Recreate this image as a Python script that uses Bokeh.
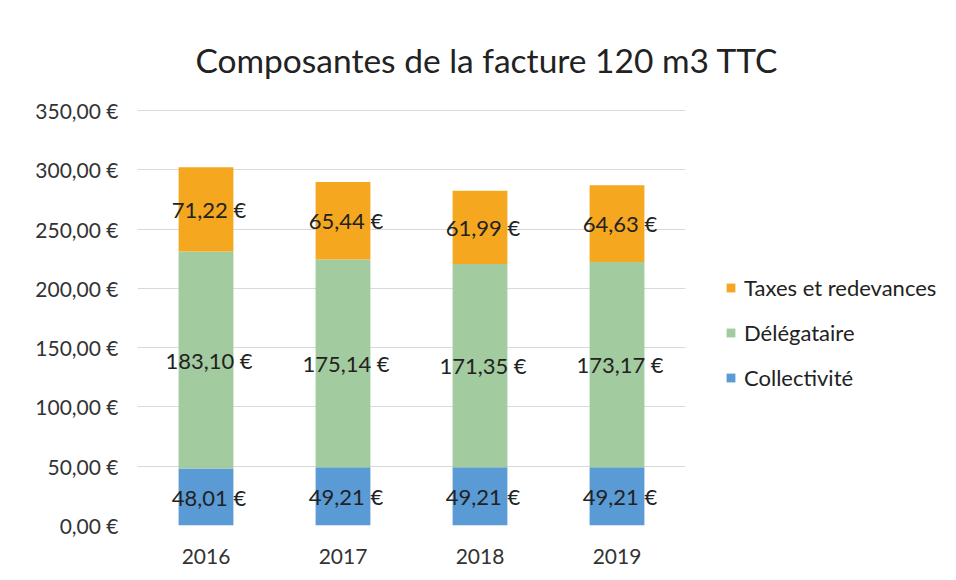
from bokeh.plotting import figure
from bokeh.models import FactorRange, Range1d, Legend, LegendItem, ColumnDataSource, FixedTicker, Title
from bokeh.core.properties import value
from bokeh.embed import file_html
from bokeh.resources import INLINE

years = ["2016", "2017", "2018", "2019"]
collectivite = [48.01, 49.21, 49.21, 49.21]
delegataire = [183.10, 175.14, 171.35, 173.17]
taxes = [71.22, 65.44, 61.99, 64.63]
series_names = ["Collectivité", "Délégataire", "Taxes et redevances"]
colors = ["#5B9BD5", "#A2CB9F", "#F5A81F"]
y_ticks = [0, 50, 100, 150, 200, 250, 300, 350]
y_tick_labels = ["0,00 €", "50,00 €", "100,00 €", "150,00 €", "200,00 €", "250,00 €", "300,00 €", "350,00 €"]

FONT = "Lato"

def fmt(v):
    return ("%.2f" % v).replace(".", ",") + " €"

src = ColumnDataSource(dict(years=years, c=collectivite, d=delegataire, t=taxes))

p = figure(x_range=FactorRange(*years), y_range=Range1d(0, 351),
           width=956, height=580, frame_width=548, frame_height=416,
           min_border_left=137, min_border_right=271, min_border_top=109, min_border_bottom=55,
           output_backend="svg", toolbar_location=None, title=None)
p.outline_line_color = None
p.background_fill_color = "white"
p.border_fill_color = "white"

rs = p.vbar_stack(["c", "d", "t"], x="years", width=0.4, color=colors, source=src,
                  line_color=None)

# data labels
lx, ly, lt = [], [], []
for i, yr in enumerate(years):
    b = 0.0
    for vals in (collectivite, delegataire, taxes):
        v = vals[i]
        lx.append(yr)
        ly.append(b + v / 2)
        lt.append(fmt(v))
        b += v
lsrc = ColumnDataSource(dict(x=lx, y=ly, text=lt))
p.text(x="x", y="y", text="text", source=lsrc, text_align="center", text_baseline="middle",
       x_offset=3, text_font=value(FONT), text_font_size="22px", text_color="#222222")

# axes
p.yaxis.ticker = FixedTicker(ticks=y_ticks)
p.yaxis.major_label_overrides = {t: l for t, l in zip(y_ticks, y_tick_labels)}
for ax in (p.xaxis[0], p.yaxis[0]):
    ax.axis_line_color = None
    ax.major_tick_line_color = None
    ax.minor_tick_line_color = None
    ax.major_label_text_font = FONT
    ax.major_label_text_font_size = "21px"
    ax.major_label_text_color = "#333333"
p.yaxis.major_label_standoff = 13
p.xaxis.major_label_standoff = 17
p.xgrid.grid_line_color = None
p.ygrid.grid_line_color = "#D9D9D9"
p.ygrid.grid_line_width = 1

# title
p.add_layout(Title(text="Composantes de la facture 120 m3 TTC", align="left", offset=58,
                   text_font=FONT, text_font_size="33.5px", text_font_style="normal",
                   text_color="#222222", standoff=59), "above")

legend = Legend(items=[LegendItem(label=series_names[2], renderers=[rs[2]]),
                       LegendItem(label=series_names[1], renderers=[rs[1]]),
                       LegendItem(label=series_names[0], renderers=[rs[0]])],
                location=(40, 134), glyph_width=11, glyph_height=11, spacing=18, label_height=22,
                label_standoff=8, label_text_font=FONT, label_text_font_size="22px",
                label_text_color="#222222", border_line_color=None, margin=0, padding=10,
                background_fill_alpha=0)
p.add_layout(legend, "right")

open("out.html", "w").write(file_html(p, INLINE))
